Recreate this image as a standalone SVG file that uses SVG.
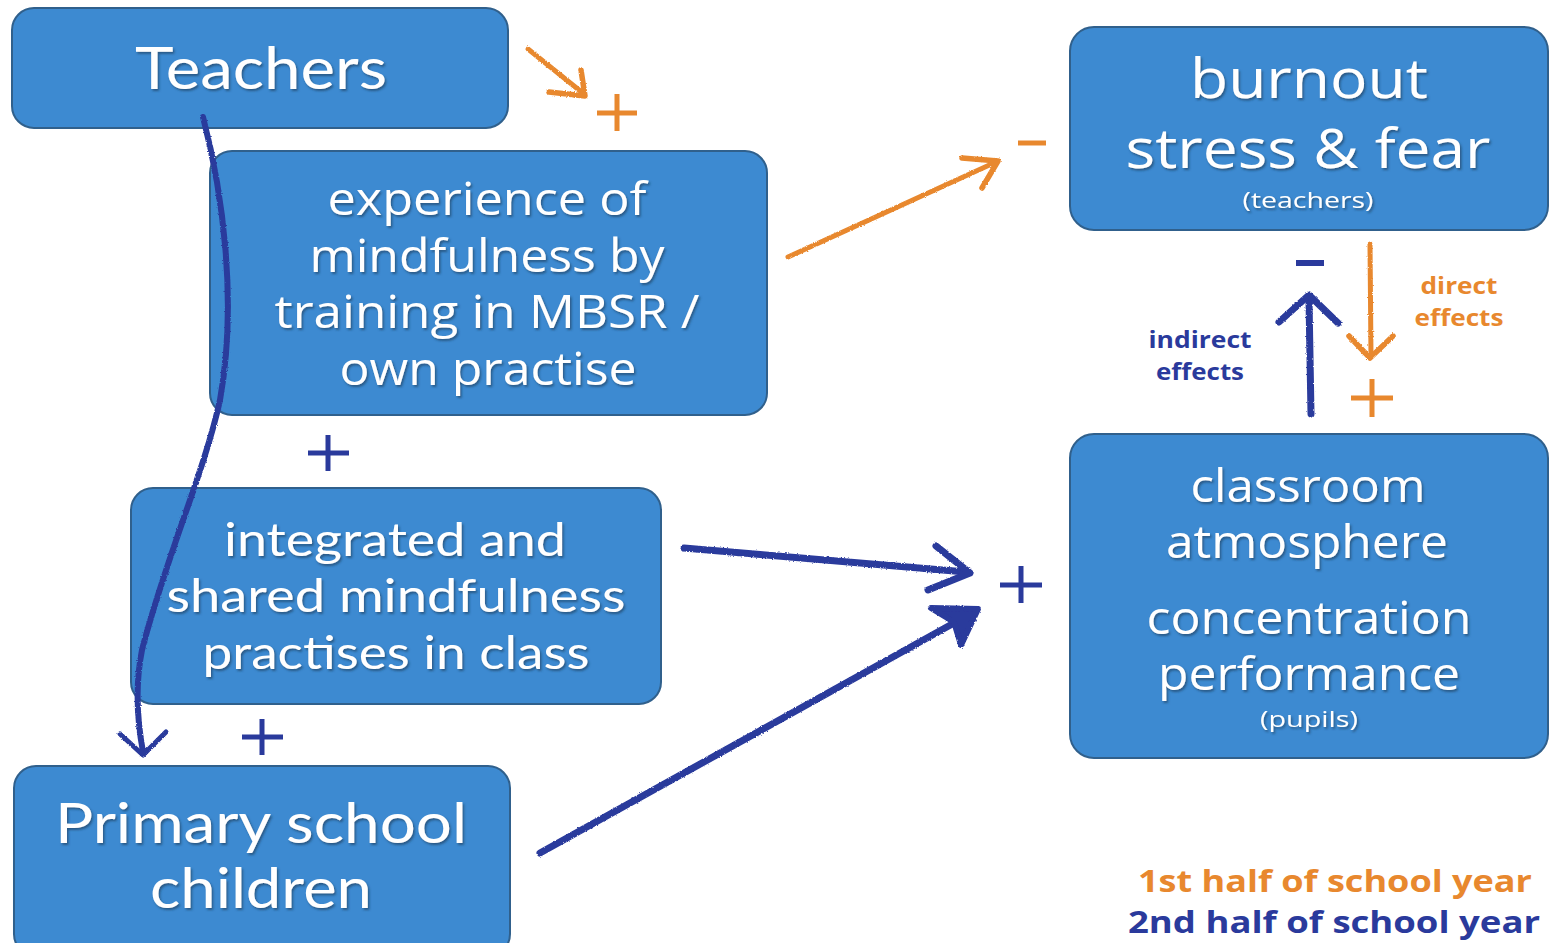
<svg xmlns="http://www.w3.org/2000/svg" width="1549" height="943" viewBox="0 0 1549 943">
  <style>
    .box { fill: #3d8ad1; stroke: #30608c; stroke-width: 2; }
    .cal { font-family: Lato, "Open Sans", "DejaVu Sans", sans-serif; fill: #ffffff; text-anchor: middle; filter: url(#txtShadow); }
    .cor { font-family: "Open Sans", "Noto Sans", "DejaVu Sans", sans-serif; fill: #ffffff; text-anchor: middle; filter: url(#txtShadow); }
    .lbl { font-family: "Open Sans", "Noto Sans", "DejaVu Sans", sans-serif; font-weight: 700; text-anchor: middle; }
    .end { text-anchor: end; }
    .orange { fill: #e8882e; }
    .navy { fill: #2a3a9c; }
    .so { stroke: #e8882e; fill: none; stroke-linecap: round; stroke-linejoin: round; }
    .sn { stroke: #2a3a9c; fill: none; stroke-linecap: round; stroke-linejoin: round; }
    .sn.solid { fill: #2a3a9c; }
    .sign { stroke-linecap: butt; fill: none; }
  </style>
  <defs>
    <filter id="txtShadow" x="-10%" y="-20%" width="120%" height="150%">
      <feDropShadow dx="1.5" dy="2" stdDeviation="1" flood-color="#1d3c5c" flood-opacity="0.65"/>
    </filter>
    <filter id="rough" x="-5%" y="-5%" width="110%" height="110%">
      <feTurbulence type="fractalNoise" baseFrequency="0.8" numOctaves="2" seed="3" result="n"/>
      <feDisplacementMap in="SourceGraphic" in2="n" scale="2.5" xChannelSelector="R" yChannelSelector="G"/>
    </filter>
  </defs>

  <rect width="1549" height="943" fill="#ffffff"/>

  <!-- nodes -->
  <g id="teachers">
    <rect class="box" x="12" y="8" width="496" height="120" rx="22"/>
    <text class="cal" x="261" y="89" font-size="58" textLength="252" lengthAdjust="spacingAndGlyphs">Teachers</text>
  </g>

  <g id="experience">
    <rect class="box" x="210" y="151" width="557" height="264" rx="22"/>
    <text class="cor" x="487" y="215" font-size="45" textLength="319" lengthAdjust="spacingAndGlyphs">experience of</text>
    <text class="cor" x="487" y="272" font-size="45" textLength="355" lengthAdjust="spacingAndGlyphs">mindfulness by</text>
    <text class="cor" x="487" y="328" font-size="45" textLength="425" lengthAdjust="spacingAndGlyphs">training in MBSR /</text>
    <text class="cor" x="488" y="385" font-size="45" textLength="297" lengthAdjust="spacingAndGlyphs">own practise</text>
  </g>

  <g id="integrated">
    <rect class="box" x="131" y="488" width="530" height="216" rx="22"/>
    <text class="cal" x="395" y="556" font-size="47" textLength="342" lengthAdjust="spacingAndGlyphs">integrated and</text>
    <text class="cal" x="396" y="612" font-size="47" textLength="459" lengthAdjust="spacingAndGlyphs">shared mindfulness</text>
    <text class="cal" x="396" y="669" font-size="47" textLength="387" lengthAdjust="spacingAndGlyphs">practises in class</text>
  </g>

  <g id="children">
    <rect class="box" x="14" y="766" width="496" height="190" rx="22"/>
    <text class="cal" x="261" y="843" font-size="57" textLength="412" lengthAdjust="spacingAndGlyphs">Primary school</text>
    <text class="cal" x="261" y="908" font-size="57" textLength="222" lengthAdjust="spacingAndGlyphs">children</text>
  </g>

  <g id="burnout">
    <rect class="box" x="1070" y="27" width="478" height="203" rx="24"/>
    <text class="cor" x="1309" y="98" font-size="55" textLength="238" lengthAdjust="spacingAndGlyphs">burnout</text>
    <text class="cor" x="1308" y="168" font-size="55" textLength="365" lengthAdjust="spacingAndGlyphs">stress &amp; fear</text>
    <text class="cor" x="1308" y="208" font-size="22" textLength="131" lengthAdjust="spacingAndGlyphs">(teachers)</text>
  </g>

  <g id="classroom">
    <rect class="box" x="1070" y="434" width="478" height="324" rx="24"/>
    <text class="cor" x="1308" y="502" font-size="45" textLength="235" lengthAdjust="spacingAndGlyphs">classroom</text>
    <text class="cor" x="1307" y="558" font-size="45" textLength="282" lengthAdjust="spacingAndGlyphs">atmosphere</text>
    <text class="cor" x="1309" y="634" font-size="45" textLength="325" lengthAdjust="spacingAndGlyphs">concentration</text>
    <text class="cor" x="1309" y="690" font-size="45" textLength="302" lengthAdjust="spacingAndGlyphs">performance</text>
    <text class="cor" x="1309" y="727" font-size="22" textLength="98" lengthAdjust="spacingAndGlyphs">(pupils)</text>
  </g>

  <!-- connectors (hand-drawn strokes), drawn over the boxes -->
  <g id="connectors" filter="url(#rough)">
    <!-- Teachers -> experience (orange, short) -->
    <path class="so" stroke-width="5" d="M528,49 L584,94"/>
    <path class="so" stroke-width="5.5" d="M549,92 L585,96 L581,70"/>
    <!-- experience -> burnout (orange) -->
    <path class="so" stroke-width="5" d="M788,257 L996,162"/>
    <path class="so" stroke-width="5.5" d="M962,158 L998,161 L982,188"/>
    <!-- Teachers -> Primary school children (navy curve) -->
    <path class="sn" stroke-width="6" d="M203,117 C222,190 238,300 220,400 C205,470 165,560 142,650 C134,690 138,725 143,752"/>
    <path class="sn" stroke-width="5" d="M120,734 L143,755 L166,732"/>
    <!-- integrated -> classroom (navy) -->
    <path class="sn" stroke-width="7" d="M684,548 L966,572"/>
    <path class="sn" stroke-width="7" d="M936,546 L970,573 L928,590"/>
    <!-- children -> classroom (navy) -->
    <path class="sn" stroke-width="7" d="M540,853 L972,613"/>
    <path class="sn solid" stroke-width="6" d="M931,608 L978,609 L961,645 L954,622 Z"/>
    <!-- classroom -> burnout, indirect (navy, up) -->
    <path class="sn" stroke-width="7" d="M1311,414 L1309,300"/>
    <path class="sn" stroke-width="7" d="M1279,322 L1309,295 L1338,323"/>
    <!-- burnout -> classroom, direct (orange, down) -->
    <path class="so" stroke-width="5" d="M1370,244 L1371,356"/>
    <path class="so" stroke-width="5.5" d="M1349,336 L1370,358 L1393,336"/>
  </g>

  <!-- effect signs -->
  <g id="signs">
    <path class="sign" stroke="#e8882e" stroke-width="5" d="M597,113 H637 M617,94 V131"/>
    <path class="sign" stroke="#e8882e" stroke-width="5" d="M1018,143 H1046"/>
    <path class="sign" stroke="#2a3a9c" stroke-width="5" d="M308,453 H349 M328,435 V471"/>
    <path class="sign" stroke="#2a3a9c" stroke-width="5" d="M242,737 H283 M262,719 V755"/>
    <path class="sign" stroke="#2a3a9c" stroke-width="5" d="M1000,585 H1042 M1021,566 V603"/>
    <path class="sign" stroke="#2a3a9c" stroke-width="6" d="M1296,263 H1324"/>
    <path class="sign" stroke="#e8882e" stroke-width="5" d="M1351,398 H1393 M1372,379 V417"/>
  </g>

  <!-- effect labels -->
  <g id="effect-labels">
    <text class="lbl navy" x="1200" y="348" font-size="23" textLength="103" lengthAdjust="spacingAndGlyphs">indirect</text>
    <text class="lbl navy" x="1200" y="380" font-size="23" textLength="88" lengthAdjust="spacingAndGlyphs">effects</text>
    <text class="lbl orange" x="1459" y="294" font-size="23" textLength="77" lengthAdjust="spacingAndGlyphs">direct</text>
    <text class="lbl orange" x="1459" y="326" font-size="23" textLength="89" lengthAdjust="spacingAndGlyphs">effects</text>
  </g>

  <!-- legend -->
  <g id="legend">
    <text class="lbl orange end" x="1532" y="892" font-size="31" textLength="394" lengthAdjust="spacingAndGlyphs">1st half of school year</text>
    <text class="lbl navy end" x="1540" y="933" font-size="31" textLength="412" lengthAdjust="spacingAndGlyphs">2nd half of school year</text>
  </g>
</svg>
